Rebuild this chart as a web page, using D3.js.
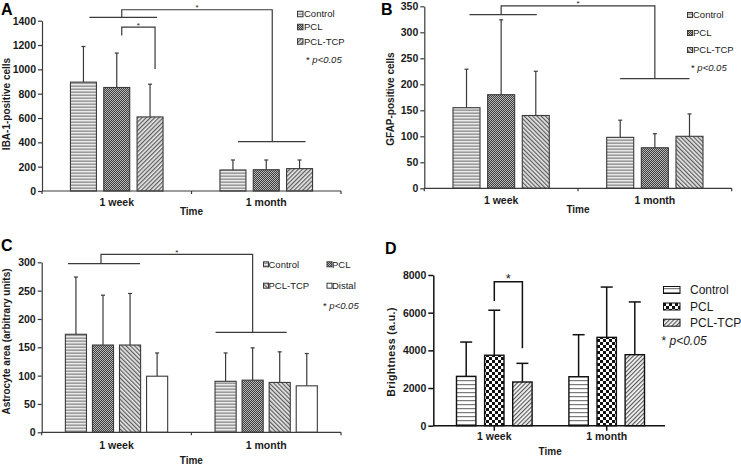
<!DOCTYPE html>
<html>
<head>
<meta charset="utf-8">
<script src="https://cdn.jsdelivr.net/npm/d3@7"></script>
<style>
  body { margin: 0; background: #fff; }
  svg { display: block; font-family: "Liberation Sans", Arial, sans-serif; }
</style>
</head>
<body>
<svg id="fig" width="741" height="468"></svg>
<script>
// DATA
const times = ["1 week", "1 month"];
const groups3 = ["Control", "PCL", "PCL-TCP"];
const groups4 = ["Control", "PCL", "PCL-TCP", "Distal"];

// A: IBA-1-positive cells, mean and SD per [time][group]
const ibaMean = [[895, 851, 609], [173, 175, 184]];
const ibaSd = [[293, 283, 269], [82, 80, 71]];
// B: GFAP-positive cells
const gfapMean = [[155, 180, 140], [98, 78, 100]];
const gfapSd = [[74, 144, 85], [33, 27, 43]];
// C: astrocyte area
const areaMean = [[173, 154, 154, 99], [90, 92, 88, 82]];
const areaSd = [[101, 88, 91, 41], [50, 57, 54, 57]];
// D: brightness
const brightMean = [[2620, 3740, 2320], [2600, 4690, 3770]];
const brightSd = [[1820, 2390, 990], [2230, 2670, 2800]];

// significance levels (in data units)
const ibaSig = {group: 1427, top: 1490, month: 406, innerL: 1279, innerTop: 1348, innerR: 1002};
const gfapSig = {group: 334, top: 351, month: 211};
const areaSig = {group: 297.5, top: 314, month: 176.5};
const brightSig = {innerL: 6620, innerTop: 7644, innerR: 4109};

const svg = d3.select('#fig');
const defs = svg.append('defs');

// fill patterns
function addPattern(id, size, rotate, parts) {
  let p = defs.append('pattern')
    .attr('id', id)
    .attr('patternUnits', 'userSpaceOnUse')
    .attr('width', size[0])
    .attr('height', size[1]);
  if (rotate) p.attr('patternTransform', `rotate(${rotate})`);
  parts.forEach(r => p.append('rect')
    .attr('x', r[0]).attr('y', r[1])
    .attr('width', r[2]).attr('height', r[3])
    .attr('fill', r[4]));
}
addPattern('hs', [4, 3], 0, [[0, 0, 4, 3, '#9c9c9c'], [0, 0, 4, 1.4, '#e9e9e9']]);
addPattern('ck', [2, 2], 0, [[0, 0, 2, 2, '#3d3d3d'], [0, 0, 1, 1, '#b8b8b8'], [1, 1, 1, 1, '#b8b8b8']]);
addPattern('dgA', [3, 3], 45, [[0, 0, 3, 3, '#e6e6e6'], [0, 0, 1.2, 3, '#5a5a5a']]);
addPattern('dgB', [3, 3], -45, [[0, 0, 3, 3, '#e6e6e6'], [0, 0, 1.2, 3, '#5a5a5a']]);
addPattern('hsD', [4, 4], 0, [[0, 0, 4, 4, '#ffffff'], [0, 0, 4, 1.2, '#7c7c7c']]);
addPattern('ckD', [6, 6], 0, [[0, 0, 6, 6, '#ffffff'], [0, 0, 3, 3, '#111111'], [3, 3, 3, 3, '#111111']]);
addPattern('dgD', [3, 3], 45, [[0, 0, 3, 3, '#f4f4f4'], [0, 0, 1.1, 3, '#555555']]);

function drawPanel(c) {
  let g = svg.append('g').attr('class', 'panel');

  let xT = d3.scaleBand().domain(times).range([c.left, c.right]);
  let xG = d3.scaleBand().domain(c.groups)
    .range([-c.groupW / 2, c.groupW / 2])
    .paddingInner(c.pad);
  let y = d3.scaleLinear().domain([0, c.ymax]).range([c.bottom, c.top]);

  let barX = (t, gr) => xT(t) + xT.bandwidth() / 2 + xG(gr);
  let mid = (t, gr, dx) => barX(t, gr) + xG.bandwidth() / 2 + (dx || 0);

  let rows = [];
  times.forEach((t, i) => c.groups.forEach((gr, j) =>
    rows.push({t: t, g: gr, j: j, mean: c.mean[i][j], sd: c.sd[i][j]})));

  // error bars (upper only)
  g.selectAll('line.err').data(rows).enter().append('line')
    .attr('class', 'err')
    .attr('x1', d => mid(d.t, d.g)).attr('x2', d => mid(d.t, d.g))
    .attr('y1', d => y(d.mean)).attr('y2', d => y(d.mean + d.sd))
    .attr('stroke', c.ink).attr('stroke-width', c.errW);
  g.selectAll('line.cap').data(rows).enter().append('line')
    .attr('class', 'cap')
    .attr('x1', d => mid(d.t, d.g) - c.cap / 2).attr('x2', d => mid(d.t, d.g) + c.cap / 2)
    .attr('y1', d => y(d.mean + d.sd)).attr('y2', d => y(d.mean + d.sd))
    .attr('stroke', c.ink).attr('stroke-width', c.errW);

  // bars
  g.selectAll('rect.bar').data(rows).enter().append('rect')
    .attr('class', 'bar')
    .attr('x', d => barX(d.t, d.g))
    .attr('y', d => y(d.mean))
    .attr('width', xG.bandwidth())
    .attr('height', d => y(0) - y(d.mean))
    .attr('fill', d => c.fills[d.j])
    .attr('stroke', c.ink)
    .attr('stroke-width', c.barW);

  // y axis
  g.append('g')
    .attr('transform', `translate(${c.axisL},0)`)
    .call(d3.axisLeft(y)
      .tickValues(d3.range(0, c.ymax + 1, c.step))
      .tickSize(c.tick).tickSizeOuter(0).tickPadding(2)
      .tickFormat(d3.format('d')))
    .call(a => a.selectAll('.domain, .tick line').attr('stroke', c.ink).attr('stroke-width', c.axW))
    .call(a => a.selectAll('.tick text')
      .attr('font-family', 'Liberation Sans, Arial, sans-serif')
      .attr('font-size', c.tickFont).attr('font-weight', 'bold').attr('fill', '#1a1a1a'));

  // x axis
  g.append('line')
    .attr('x1', c.axisL).attr('x2', c.axisR)
    .attr('y1', y(0)).attr('y2', y(0))
    .attr('stroke', c.ink).attr('stroke-width', c.axW);
  g.append('g')
    .attr('transform', `translate(0,${y(0)})`)
    .call(d3.axisBottom(xT).tickSize(c.xTick).tickPadding(c.xPad))
    .call(a => a.select('.domain').remove())
    .call(a => a.selectAll('.tick line').attr('stroke', c.ink).attr('stroke-width', c.axW))
    .call(a => a.selectAll('.tick text')
      .attr('font-family', 'Liberation Sans, Arial, sans-serif')
      .attr('font-size', c.xFont).attr('font-weight', 'bold').attr('fill', '#1a1a1a'));
  if (c.boundaryTicks) {
    g.selectAll('line.btick')
      .data([c.left, xT(times[1]), c.right]).enter().append('line')
      .attr('x1', d => d).attr('x2', d => d)
      .attr('y1', y(0)).attr('y2', y(0) + 3)
      .attr('stroke', c.ink).attr('stroke-width', c.axW);
  }

  // axis titles
  g.append('text')
    .attr('x', (c.axisL + c.axisR) / 2 + (c.timeDx || 0))
    .attr('y', y(0) + c.timeDy)
    .attr('text-anchor', 'middle')
    .attr('font-size', c.timeFont).attr('font-weight', 'bold').attr('fill', '#1a1a1a')
    .text('Time');
  g.append('text')
    .attr('transform', `translate(${c.titleX},${c.titleY}) rotate(-90)`)
    .attr('text-anchor', 'middle')
    .attr('font-size', c.titleFont).attr('font-weight', 'bold').attr('fill', '#1a1a1a')
    .attr('letter-spacing', c.titleSpacing || 0)
    .text(c.title);

  // panel letter
  g.append('text')
    .attr('x', c.letter[0]).attr('y', c.letter[1])
    .attr('font-size', 16).attr('font-weight', 'bold').attr('fill', '#000')
    .text(c.name);

  // significance brackets
  let line = d3.line().x(d => d[0]).y(d => y(d[1]));
  c.brackets(mid).forEach(b => {
    g.append('path')
      .attr('d', line(b.pts))
      .attr('fill', 'none')
      .attr('stroke', c.ink)
      .attr('stroke-width', c.brW);
    if (b.star) {
      let p0 = b.pts[1], p1 = b.pts[2];
      g.append('text')
        .attr('x', (p0[0] + p1[0]) / 2)
        .attr('y', y(p0[1]) + c.starDy)
        .attr('text-anchor', 'middle')
        .attr('font-size', c.starFont).attr('fill', '#1a1a1a')
        .text('*');
    }
  });

  // legend
  let L = c.legend;
  let lg = g.append('g');
  c.groups.forEach((gr, j) => {
    let it = L.pos[j];
    lg.append('rect')
      .attr('x', it[0]).attr('y', it[1] - L.sw[1] / 2)
      .attr('width', L.sw[0]).attr('height', L.sw[1])
      .attr('fill', c.fills[j]).attr('stroke', c.ink).attr('stroke-width', 1);
    lg.append('text')
      .attr('x', it[0] + L.textDx).attr('y', it[1])
      .attr('dy', '0.35em')
      .attr('font-size', L.font).attr('fill', '#1a1a1a')
      .text(gr);
  });
  let pt = lg.append('text')
    .attr('x', L.p[0]).attr('y', L.p[1]).attr('dy', '0.35em')
    .attr('font-size', L.font).attr('fill', '#1a1a1a');
  pt.append('tspan').text('* ');
  pt.append('tspan').attr('font-style', 'italic').text('p<0.05');
}

const W = times[0], M = times[1];

drawPanel({
  name: 'A', letter: [1, 14.5],
  groups: groups3, mean: ibaMean, sd: ibaSd,
  fills: ['url(#hs)', 'url(#ck)', 'url(#dgA)'],
  left: 42, right: 341, axisL: 42, axisR: 341, top: 20.7, bottom: 191,
  ymax: 1400, step: 200, groupW: 92.6, pad: 0.22,
  ink: '#3a3a3a', axW: 1.2, barW: 1.1, errW: 1.2, brW: 1.2, cap: 4, tick: 4,
  xTick: 0, xPad: 8, xFont: 10.5, tickFont: 10.5, boundaryTicks: true,
  timeDy: 24, timeFont: 10, title: 'IBA-1-positive cells', titleX: 10, titleY: 104, titleFont: 10,
  starFont: 8, starDy: 0.5,
  brackets: mid => [
    {pts: [[mid(W, 'Control', 6), ibaSig.group], [mid(W, 'PCL-TCP', 7), ibaSig.group]]},
    {pts: [[mid(W, 'PCL', 5), ibaSig.group], [mid(W, 'PCL', 5), ibaSig.top],
           [mid(M, 'PCL', 6), ibaSig.top], [mid(M, 'PCL', 6), ibaSig.month]], star: true},
    {pts: [[mid(M, 'Control', 5), ibaSig.month], [mid(M, 'PCL-TCP', 6), ibaSig.month]]},
    {pts: [[mid(W, 'PCL', 5), ibaSig.innerL], [mid(W, 'PCL', 5), ibaSig.innerTop],
           [mid(W, 'PCL-TCP', 5), ibaSig.innerTop], [mid(W, 'PCL-TCP', 5), ibaSig.innerR]], star: true}
  ],
  legend: {pos: [[297.5, 14], [297.5, 27], [297.5, 41.5]], sw: [5.5, 5.5], textDx: 6.5, font: 9.5, p: [306, 60]}
});

drawPanel({
  name: 'B', letter: [381, 15],
  groups: groups3, mean: gfapMean, sd: gfapSd,
  fills: ['url(#hs)', 'url(#ck)', 'url(#dgB)'],
  left: 424.3, right: 731.7, axisL: 424.3, axisR: 731.7, top: 6.3, bottom: 188.3,
  ymax: 350, step: 50, groupW: 96.3, pad: 0.22,
  ink: '#3a3a3a', axW: 1.2, barW: 1.1, errW: 1.2, brW: 1.2, cap: 4, tick: 4,
  xTick: 0, xPad: 8.5, xFont: 10.5, tickFont: 10.5, boundaryTicks: true,
  timeDy: 25, timeFont: 10, title: 'GFAP-positive cells', titleX: 394, titleY: 99, titleFont: 10,
  starFont: 8, starDy: 0.5,
  brackets: mid => [
    {pts: [[mid(W, 'Control', 3), gfapSig.group], [mid(W, 'PCL-TCP', 1), gfapSig.group]]},
    {pts: [[mid(W, 'PCL'), gfapSig.group], [mid(W, 'PCL'), gfapSig.top],
           [mid(M, 'PCL'), gfapSig.top], [mid(M, 'PCL'), gfapSig.month]], star: true},
    {pts: [[mid(M, 'Control'), gfapSig.month], [mid(M, 'PCL-TCP'), gfapSig.month]]}
  ],
  legend: {pos: [[687.5, 15], [687.5, 33], [687.5, 50]], sw: [5, 5], textDx: 5.5, font: 9.5, p: [691, 68]}
});

drawPanel({
  name: 'C', letter: [1, 250.5],
  groups: groups4, mean: areaMean, sd: areaSd,
  fills: ['url(#hs)', 'url(#ck)', 'url(#dgB)', '#ffffff'],
  left: 41.7, right: 341, axisL: 41.7, axisR: 341, top: 262.3, bottom: 432.3,
  ymax: 300, step: 50, groupW: 102.3, pad: 0.22,
  ink: '#3a3a3a', axW: 1.2, barW: 1.1, errW: 1.2, brW: 1.2, cap: 4, tick: 4,
  xTick: 0, xPad: 9, xFont: 10.5, tickFont: 10.5, boundaryTicks: true,
  timeDy: 32, timeFont: 10, title: 'Astrocyte area (arbitrary units)', titleX: 10, titleY: 341.5, titleFont: 10,
  starFont: 8, starDy: 0.5,
  brackets: mid => [
    {pts: [[mid(W, 'Control', -8), areaSig.group], [mid(W, 'PCL-TCP', 10), areaSig.group]]},
    {pts: [[mid(W, 'PCL', -2), areaSig.group], [mid(W, 'PCL', -2), areaSig.top],
           [mid(M, 'PCL'), areaSig.top], [mid(M, 'PCL'), areaSig.month]], star: true},
    {pts: [[mid(M, 'Control', -10), areaSig.month], [mid(M, 'PCL-TCP', 7), areaSig.month]]}
  ],
  legend: {pos: [[263.5, 264.3], [327, 264.3], [263.5, 285.7], [327, 285.7]], sw: [5, 5], textDx: 5, font: 9.5, p: [323, 306]}
});

drawPanel({
  name: 'D', letter: [385, 253.5],
  groups: groups3, mean: brightMean, sd: brightSd,
  fills: ['url(#hsD)', 'url(#ckD)', 'url(#dgD)'],
  left: 438.1, right: 662.9, axisL: 433.3, axisR: 665, top: 275, bottom: 425.7,
  ymax: 8000, step: 2000, groupW: 75.6, pad: 0.31,
  ink: '#111111', axW: 1.5, barW: 1.4, errW: 1.5, brW: 1.5, cap: 12, tick: 5,
  xTick: 5, xPad: 2, xFont: 10.5, tickFont: 10.5, boundaryTicks: false,
  timeDy: 29, timeDx: 1, timeFont: 10, title: 'Brightness  (a.u.)', titleX: 395, titleY: 352,
  titleFont: 10.5, titleSpacing: 0.4,
  starFont: 13, starDy: 1.5,
  brackets: mid => [
    {pts: [[mid(W, 'PCL'), brightSig.innerL], [mid(W, 'PCL'), brightSig.innerTop],
           [mid(W, 'PCL-TCP'), brightSig.innerTop], [mid(W, 'PCL-TCP'), brightSig.innerR]], star: true}
  ],
  legend: {pos: [[663.5, 290], [663.5, 306.5], [663.5, 322.7]], sw: [16.5, 7], textDx: 26.5, font: 12, p: [661.5, 341]}
});
</script>
</body>
</html>
